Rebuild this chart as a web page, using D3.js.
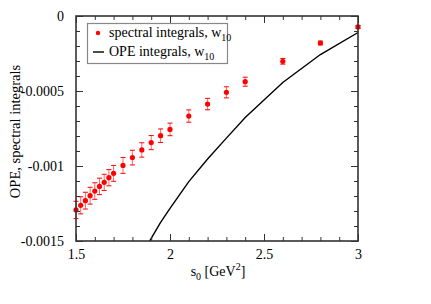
<!DOCTYPE html>
<html>
<head>
<meta charset="utf-8">
<script src="https://cdn.jsdelivr.net/npm/d3@7"></script>
<style>
  html, body { margin: 0; padding: 0; background: #fff; }
  svg { display: block; }
  text { font-family: "Liberation Serif", "Times New Roman", serif; fill: #000; }
</style>
</head>
<body>
<svg id="chart" width="431" height="304"></svg>
<script>
// ---- data ----
const specS = [1.5, 1.525, 1.55, 1.575, 1.6, 1.625, 1.65, 1.675, 1.7, 1.75, 1.8, 1.85, 1.9, 1.95, 2.0, 2.1, 2.2, 2.3, 2.4, 2.6, 2.8, 3.0];
const specVal = [-0.001293, -0.001262, -0.001231, -0.001198, -0.001167, -0.001136, -0.001109, -0.001078, -0.001049, -0.000996, -0.000944, -0.000893, -0.000844, -0.000798, -0.000756, -0.000667, -0.000587, -0.000509, -0.000438, -0.000302, -0.000180, -0.000073];
const specErr = [0.000058, 0.000057, 0.000056, 0.000056, 0.000055, 0.000055, 0.000054, 0.000054, 0.000053, 0.000053, 0.000049, 0.000048, 0.000047, 0.000045, 0.000042, 0.000041, 0.000038, 0.000037, 0.000030, 0.000019, 0.000013, 0.000010];
const opeS = [1.85, 1.9, 1.95, 2.0, 2.1, 2.2, 2.3, 2.4, 2.6, 2.8, 3.0];
const opeVal = [-0.00159, -0.001482, -0.001376, -0.001282, -0.001104, -0.000953, -0.000814, -0.000677, -0.000443, -0.000257, -0.00011];
const xTicks = [1.5, 2, 2.5, 3];
const xTickLabels = ["1.5", "2", "2.5", "3"];
const yTicks = [0, -0.0005, -0.001, -0.0015];
const yTickLabels = ["0", "-0.0005", "-0.001", "-0.0015"];
const legendLabels = ["spectral integrals, w", "OPE integrals, w"];
const legendSub = "10";

// ---- layout ----
const L = 76, R = 358, T = 16, B = 241;
const svg = d3.select("#chart");
const x = d3.scaleLinear().domain([1.5, 3]).range([L, R]);
const y = d3.scaleLinear().domain([-0.0015, 0]).range([B, T]);
const frameColor = "#333";

// clip
svg.append("defs").append("clipPath").attr("id", "clip")
  .append("rect").attr("x", L).attr("y", T).attr("width", R - L).attr("height", B - T);

// OPE line
svg.append("path")
  .datum(opeS.map((s, i) => [s, opeVal[i]]))
  .attr("clip-path", "url(#clip)")
  .attr("fill", "none").attr("stroke", "#000").attr("stroke-width", 1.4)
  .attr("d", d3.line().x(d => x(d[0])).y(d => y(d[1])));

// error bars
const eg = svg.append("g").attr("stroke", "#f00").attr("stroke-width", 1);
specS.forEach((s, i) => {
  const cx = x(s), y1 = y(specVal[i] - specErr[i]), y2 = y(specVal[i] + specErr[i]);
  eg.append("line").attr("x1", cx).attr("x2", cx).attr("y1", y1).attr("y2", y2).attr("stroke-opacity", 0.6);
  eg.append("line").attr("x1", cx - 2.5).attr("x2", cx + 2.5).attr("y1", y1).attr("y2", y1);
  eg.append("line").attr("x1", cx - 2.5).attr("x2", cx + 2.5).attr("y1", y2).attr("y2", y2);
});
svg.append("g").selectAll("circle").data(specS).join("circle")
  .attr("cx", d => x(d)).attr("cy", (d, i) => y(specVal[i])).attr("r", 2.6).attr("fill", "#f00");

// axes (inward ticks, mirrored)
function axisGroup(axis, tx, ty) {
  const g = svg.append("g").attr("transform", `translate(${tx},${ty})`).call(axis);
  g.select(".domain").remove();
  g.selectAll(".tick line").attr("stroke", frameColor).attr("stroke-width", 1);
  return g;
}
const xMinor = d3.range(15, 31).map(v => v / 10);
const yMinor = d3.range(0, 16).map(v => -v / 10000);
// bottom
axisGroup(d3.axisBottom(x).tickValues(xMinor).tickSize(-4).tickFormat(""), 0, B);
const xb = axisGroup(d3.axisBottom(x).tickValues(xTicks).tickSize(-7).tickPadding(10)
  .tickFormat((d, i) => xTickLabels[i]), 0, B);
xb.selectAll("text").attr("font-size", 14).attr("font-family", "Liberation Serif, serif").attr("dy", "0.6em");
// top
axisGroup(d3.axisTop(x).tickValues(xMinor).tickSize(-4).tickFormat(""), 0, T);
axisGroup(d3.axisTop(x).tickValues(xTicks).tickSize(-7).tickFormat(""), 0, T);
// left
axisGroup(d3.axisLeft(y).tickValues(yMinor).tickSize(-4).tickFormat(""), L, 0);
const yl = axisGroup(d3.axisLeft(y).tickValues(yTicks).tickSize(-7).tickPadding(12)
  .tickFormat((d, i) => yTickLabels[i]), L, 0);
yl.selectAll("text").attr("font-size", 14).attr("font-family", "Liberation Serif, serif");
// right
axisGroup(d3.axisRight(y).tickValues(yMinor).tickSize(-4).tickFormat(""), R, 0);
axisGroup(d3.axisRight(y).tickValues(yTicks).tickSize(-7).tickFormat(""), R, 0);

// frame
svg.append("rect").attr("x", L).attr("y", T).attr("width", R - L).attr("height", B - T)
  .attr("fill", "none").attr("stroke", frameColor).attr("stroke-width", 1.6);

// axis titles
const xt = svg.append("text").attr("x", (L + R) / 2 + 1).attr("y", 276)
  .attr("text-anchor", "middle").attr("font-size", 14);
xt.append("tspan").text("s");
xt.append("tspan").attr("font-size", 10).attr("dy", 4).text("0");
xt.append("tspan").attr("dy", -4).text(" [GeV");
xt.append("tspan").attr("font-size", 10).attr("dy", -6).text("2");
xt.append("tspan").attr("dy", 6).text("]");

svg.append("text").attr("transform", `translate(20,${(T + B) / 2 + 3}) rotate(-90)`)
  .attr("text-anchor", "middle").attr("font-size", 14.5).text("OPE, spectral integrals");

// legend
const lg = svg.append("g");
lg.append("rect").attr("x", 87.5).attr("y", 23.5).attr("width", 140).attr("height", 40)
  .attr("fill", "#fff").attr("stroke", "#888").attr("stroke-width", 1.2);
const rowY = [33, 52];
lg.append("circle").attr("cx", 98).attr("cy", rowY[0]).attr("r", 2.2).attr("fill", "#f00");
lg.append("line").attr("x1", 93).attr("x2", 104).attr("y1", rowY[1]).attr("y2", rowY[1])
  .attr("stroke", "#000").attr("stroke-width", 1.4);
legendLabels.forEach((lab, i) => {
  const t = lg.append("text").attr("x", 109).attr("y", rowY[i] + 4).attr("font-size", 14);
  t.append("tspan").text(lab);
  t.append("tspan").attr("font-size", 10).attr("dy", 4).text(legendSub);
});
</script>
</body>
</html>
